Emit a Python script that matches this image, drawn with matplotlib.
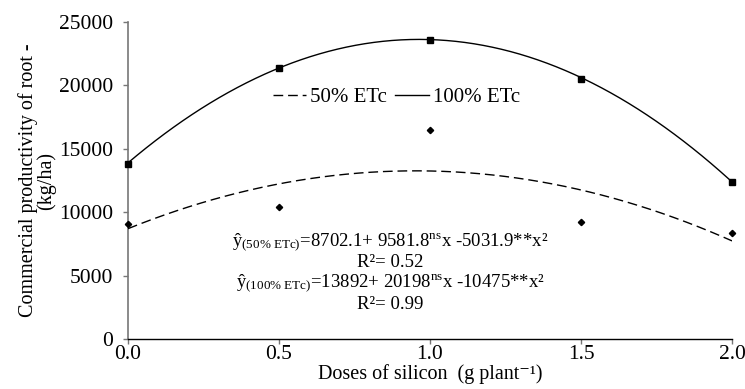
import numpy as np
import matplotlib
matplotlib.use("Agg")
import matplotlib.pyplot as plt

plt.rcParams['font.family'] = ['Liberation Serif', 'DejaVu Serif']
plt.rcParams['mathtext.fontset'] = 'custom'
plt.rcParams['mathtext.rm'] = 'Liberation Serif'
plt.rcParams['mathtext.it'] = 'Liberation Serif:italic'

doses = [0.0, 0.5, 1.0, 1.5, 2.0]
obs_50 = [9100, 10400, 16500, 9200, 8400]
obs_100 = [13800, 21400, 23600, 20500, 12400]
coef_50 = [8702.1, 9581.8, -5031.9]
coef_100 = [13892, 20198, -10475]
xticks = [0.0, 0.5, 1.0, 1.5, 2.0]
yticks = [0, 5000, 10000, 15000, 20000, 25000]

fig = plt.figure(figsize=(7.45, 3.89), dpi=100)
ax = fig.add_axes([0.1718, 0.1285, 0.8108, 0.8149])

xs = np.linspace(0, 2, 200)
f50 = coef_50[0] + coef_50[1] * xs + coef_50[2] * xs**2
f100 = coef_100[0] + coef_100[1] * xs + coef_100[2] * xs**2

l50, = ax.plot(xs, f50, color='black', lw=1.0, linestyle=(0, (7, 3.5)), label='50% ETc')
l100, = ax.plot(xs, f100, color='black', lw=1.0, label='100% ETc')
ax.plot(doses, obs_50, linestyle='none', marker='D', ms=3.2, color='black', clip_on=False)
ax.plot(doses, obs_100, linestyle='none', marker='s', ms=4.5, color='black', clip_on=False)

ax.set_xlim(0, 2)
ax.set_ylim(0, 25000)
ax.set_xticks(xticks)
ax.set_xticklabels([f"{v:.1f}" for v in xticks])
ax.set_yticks(yticks)
ax.tick_params(axis='both', labelsize=15.5, length=3.6, width=1, direction='out')
ax.tick_params(axis='y', colors='#777777', labelcolor='black', pad=7)
ax.tick_params(axis='x', colors='#777777', labelcolor='black', pad=1)
for s in ['top', 'right']:
    ax.spines[s].set_visible(False)
ax.spines['left'].set_color('#777777')
ax.spines['bottom'].set_color('black')
ax.spines['left'].set_linewidth(1.2)
ax.spines['bottom'].set_linewidth(1.0)
ax.spines['left'].set_zorder(0)

ax.set_ylabel("Commercial productivity of root -\n(kg/ha)", fontsize=14.5, linespacing=0.9, labelpad=2)
ax.set_xlabel("Doses of silicon  (g plant\u207b\u00b9)", fontsize=14.5, labelpad=0)

ax.legend(handles=[l50, l100], loc='center', bbox_to_anchor=(0.444, 0.763), ncol=2,
          frameon=False, fontsize=15, handlelength=1.6, handletextpad=0.2,
          columnspacing=0.4, borderpad=0)

eq_fs = 13.5
ax.text(0.434, 0.307, "ŷ$_{(50\\%\\ \\mathrm{ETc})}$=8702.1+ 9581.8$^{\\mathrm{ns}}$x -5031.9**x\u00b2",
        transform=ax.transAxes, ha='center', va='center', fontsize=eq_fs)
ax.text(0.434, 0.240, "R\u00b2= 0.52", transform=ax.transAxes, ha='center', va='center', fontsize=eq_fs)
ax.text(0.434, 0.176, "ŷ$_{(100\\%\\ \\mathrm{ETc})}$=13892+ 20198$^{\\mathrm{ns}}$x -10475**x\u00b2",
        transform=ax.transAxes, ha='center', va='center', fontsize=eq_fs)
ax.text(0.434, 0.110, "R\u00b2= 0.99", transform=ax.transAxes, ha='center', va='center', fontsize=eq_fs)

fig.savefig("out.png", dpi=100)
